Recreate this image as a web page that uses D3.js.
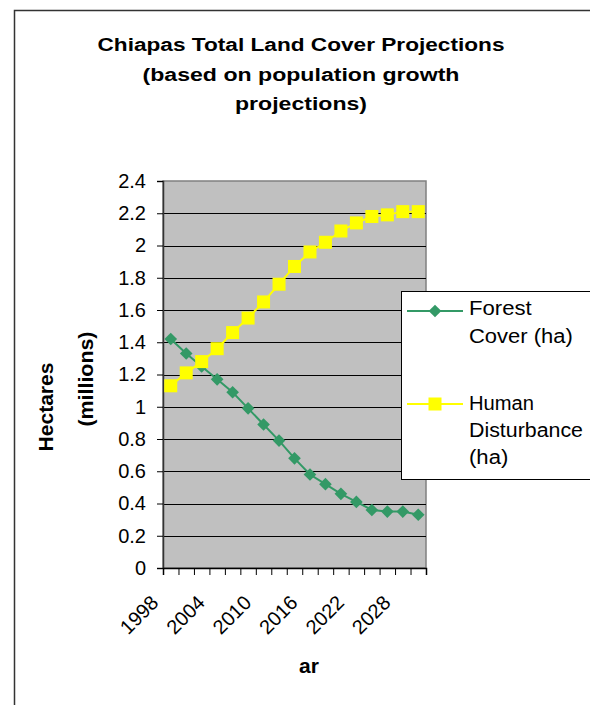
<!DOCTYPE html>
<html>
<head>
<meta charset="utf-8">
<script src="https://cdn.jsdelivr.net/npm/d3@7"></script>
<style>
  html, body { margin: 0; padding: 0; background: #fff; }
  svg { display: block; }
  text { font-family: "Liberation Sans", Arial, sans-serif; fill: #000; }
</style>
</head>
<body>
<script>
// ---- data ----
const years = [1998, 2000, 2002, 2004, 2006, 2008, 2010, 2012, 2014, 2016, 2018, 2020, 2022, 2024, 2026, 2028, 2030];
const forestCover = [1.42, 1.33, 1.25, 1.17, 1.09, 0.99, 0.89, 0.79, 0.68, 0.58, 0.52, 0.46, 0.41, 0.36, 0.35, 0.35, 0.33];
const humanDisturbance = [1.13, 1.21, 1.28, 1.36, 1.46, 1.55, 1.65, 1.76, 1.87, 1.96, 2.02, 2.09, 2.14, 2.18, 2.19, 2.21, 2.21];
const xTickLabels = [1998, 2004, 2010, 2016, 2022, 2028];
const yTicks = [0, 0.2, 0.4, 0.6, 0.8, 1, 1.2, 1.4, 1.6, 1.8, 2, 2.2, 2.4];
const titleLines = ["Chiapas Total Land Cover Projections", "(based on population growth", "projections)"];
const yTitleLines = ["Hectares", "(millions)"];
const xTitle = "ar";
const seriesNames = [["Forest", "Cover (ha)"], ["Human", "Disturbance", "(ha)"]];

const W = 590, H = 705;
const plot = { left: 163, right: 426, top: 181, bottom: 568 };

const svg = d3.select("body").append("svg").attr("width", W).attr("height", H);

// outer chart border
svg.append("rect").attr("x", 14.5).attr("y", 10.5).attr("width", 700).attr("height", 800)
  .attr("fill", "#fff").attr("stroke", "#333").attr("stroke-width", 1.5);

// title
const titleBase = [51, 81, 110];
const titleLen = [407, 317, 132];
titleLines.forEach((t, i) => {
  svg.append("text").attr("x", 301).attr("y", titleBase[i]).attr("text-anchor", "middle")
    .attr("font-size", 18).attr("font-weight", "bold")
    .attr("textLength", titleLen[i]).attr("lengthAdjust", "spacingAndGlyphs")
    .text(t);
});

// scales
const x = d3.scaleBand().domain(years).range([plot.left, plot.right]).paddingInner(0).paddingOuter(0);
const xIdx = d3.scaleLinear().domain([0, years.length]).range([plot.left, plot.right]);
const y = d3.scaleLinear().domain([0, 2.4]).range([plot.bottom, plot.top]);
const cx = d => x(d) + x.bandwidth() / 2;

// plot area
svg.append("rect").attr("x", plot.left).attr("y", plot.top)
  .attr("width", plot.right - plot.left).attr("height", plot.bottom - plot.top)
  .attr("fill", "#C0C0C0").attr("stroke", "#808080").attr("stroke-width", 1.5);

// gridlines
svg.append("g").selectAll("line").data(yTicks.filter(v => v > 0 && v < 2.4)).join("line")
  .attr("x1", plot.left).attr("x2", plot.right)
  .attr("y1", d => Math.round(y(d)) + 0.5).attr("y2", d => Math.round(y(d)) + 0.5)
  .attr("stroke", "#000").attr("stroke-width", 1);

// y axis
const yAxis = svg.append("g").attr("transform", `translate(${plot.left},0)`)
  .call(d3.axisLeft(y).tickValues(yTicks).tickSize(6).tickPadding(11)
    .tickFormat(d => String(+d.toFixed(1))));
yAxis.select(".domain").attr("stroke", "#333").attr("stroke-width", 1.5);
yAxis.selectAll(".tick line").attr("stroke", "#000");
yAxis.selectAll(".tick text").attr("font-size", 20).attr("font-family", "Liberation Sans, Arial, sans-serif").attr("fill", "#000");

// x axis (tick marks at category boundaries)
const xAxis = svg.append("g").attr("transform", `translate(0,${plot.bottom})`)
  .call(d3.axisBottom(xIdx).tickValues(d3.range(years.length + 1)).tickSize(7).tickFormat(""));
xAxis.select(".domain").attr("stroke", "#000").attr("stroke-width", 1.5);
xAxis.selectAll(".tick line").attr("stroke", "#000");

// x tick labels
svg.append("g").selectAll("text").data(xTickLabels).join("text")
  .attr("transform", d => `translate(${cx(d) - 11},${plot.bottom + 36}) rotate(-45)`)
  .attr("text-anchor", "end").attr("font-size", 20)
  .text(d => d);

// axis titles
const yTitleX = [53, 93], yTitleY = [407, 379], yTitleLen = [89, 95];
yTitleLines.forEach((t, i) => {
  svg.append("text").attr("transform", `translate(${yTitleX[i]},${yTitleY[i]}) rotate(-90)`)
    .attr("text-anchor", "middle").attr("font-size", 21).attr("font-weight", "bold")
    .attr("textLength", yTitleLen[i]).attr("lengthAdjust", "spacingAndGlyphs")
    .text(t);
});
svg.append("text").attr("x", 309).attr("y", 673).attr("text-anchor", "middle")
  .attr("font-size", 21).attr("font-weight", "bold").text(xTitle);

// series
const green = "#339966", yellow = "#FFFF00";
const line = d3.line().x((d, i) => cx(years[i])).y(d => y(d));
const diamondSym = d3.symbol().type(d3.symbolSquare).size(80);

// Forest (drawn first, under human)
svg.append("path").datum(forestCover).attr("d", line).attr("fill", "none")
  .attr("stroke", green).attr("stroke-width", 2);
svg.append("g").selectAll("path").data(forestCover).join("path")
  .attr("d", diamondSym)
  .attr("transform", (d, i) => `translate(${cx(years[i])},${y(d)}) rotate(45)`)
  .attr("fill", green);

svg.append("path").datum(humanDisturbance).attr("d", line).attr("fill", "none")
  .attr("stroke", yellow).attr("stroke-width", 2);
svg.append("g").selectAll("rect").data(humanDisturbance).join("rect")
  .attr("x", (d, i) => cx(years[i]) - 6.5).attr("y", d => y(d) - 6.5)
  .attr("width", 13).attr("height", 13).attr("fill", yellow);

// legend
svg.append("rect").attr("x", 401.5).attr("y", 291.5).attr("width", 250).attr("height", 188)
  .attr("fill", "#fff").attr("stroke", "#000").attr("stroke-width", 1);

const legY = [311, 404];
const legColors = [green, yellow];
const legTextBase = [[315, 343], [410, 437, 464]];
const legTextLen = [[62.7, 103.7], [65, 114, 39.3]];
seriesNames.forEach((names, i) => {
  svg.append("line").attr("x1", 407).attr("x2", 463).attr("y1", legY[i]).attr("y2", legY[i])
    .attr("stroke", legColors[i]).attr("stroke-width", 2);
  if (i === 0) {
    svg.append("path").attr("d", diamondSym)
      .attr("transform", `translate(435,${legY[i]}) rotate(45)`).attr("fill", green);
  } else {
    svg.append("rect").attr("x", 435 - 6.5).attr("y", legY[i] - 6.5).attr("width", 13).attr("height", 13)
      .attr("fill", yellow);
  }
  names.forEach((n, j) => {
    svg.append("text").attr("x", 469).attr("y", legTextBase[i][j]).attr("font-size", 20)
      .attr("textLength", legTextLen[i][j]).attr("lengthAdjust", "spacingAndGlyphs")
      .text(n);
  });
});
</script>
</body>
</html>
